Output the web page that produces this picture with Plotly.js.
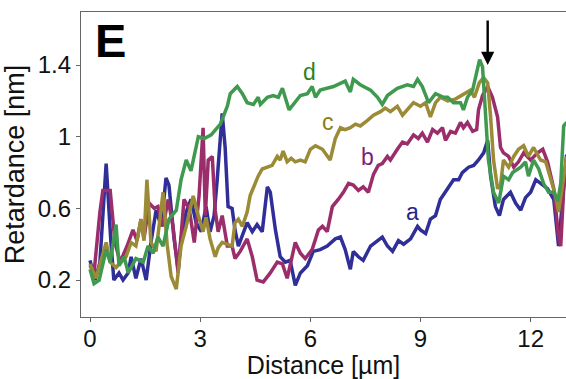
<!DOCTYPE html>
<html>
<head>
<meta charset="utf-8">
<script src="https://cdn.plot.ly/plotly-3.0.1.min.js"></script>
<style>html,body{margin:0;padding:0;background:#fff;}#chart{width:566px;height:379px;}</style>
</head>
<body>
<div id="chart"></div>
<script>
// Series a (blue)
const aX = [0,0.14,0.27,0.44,0.57,0.65,0.79,0.9,1.04,1.12,1.25,1.39,1.53,1.66,1.8,1.94,2.07,2.15,2.29,2.4,2.48,2.62,2.75,2.89,3.03,3.16,3.27,3.38,3.46,3.6,3.68,3.76,3.87,3.95,4.04,4.17,4.28,4.42,4.55,4.69,4.83,4.91,5.05,5.18,5.32,5.45,5.59,5.73,5.92,6.08,6.27,6.46,6.68,6.82,6.95,7.09,7.17,7.31,7.44,7.64,7.77,7.96,8.1,8.24,8.4,8.54,8.73,8.92,9.0,9.14,9.27,9.41,9.54,9.68,9.9,10.04,10.14,10.31,10.45,10.58,10.72,10.83,10.91,11.04,11.15,11.26,11.45,11.59,11.73,11.86,12.0,12.14,12.27,12.46,12.63,12.76,12.87,12.98];
const aY = [0.31,0.2,0.3,0.85,0.41,0.2,0.24,0.2,0.24,0.33,0.21,0.32,0.2,0.41,0.59,0.5,0.77,0.73,0.43,0.26,0.43,0.58,0.65,0.52,0.47,0.61,0.47,0.56,0.75,1.13,0.94,0.61,0.6,0.48,0.39,0.46,0.52,0.47,0.51,0.47,0.72,0.69,0.48,0.33,0.30,0.31,0.17,0.24,0.28,0.36,0.37,0.39,0.43,0.44,0.37,0.26,0.36,0.33,0.31,0.39,0.41,0.44,0.39,0.36,0.42,0.40,0.43,0.5,0.48,0.46,0.54,0.56,0.65,0.69,0.76,0.76,0.8,0.83,0.84,0.87,0.91,0.98,0.78,0.61,0.56,0.65,0.69,0.63,0.59,0.66,0.69,0.76,0.74,0.71,0.65,0.39,0.65,0.9];
// Series b (magenta)
const bX = [0,0.11,0.27,0.35,0.55,0.68,0.82,1.01,1.17,1.28,1.39,1.47,1.61,1.75,1.85,1.99,2.13,2.26,2.4,2.56,2.7,2.84,2.97,3.08,3.14,3.22,3.33,3.41,3.49,3.6,3.74,3.87,3.95,4.09,4.28,4.42,4.55,4.72,4.91,5.1,5.24,5.37,5.59,5.73,5.86,6.05,6.22,6.33,6.46,6.6,6.76,6.9,7.04,7.17,7.31,7.44,7.58,7.72,7.85,7.96,8.1,8.18,8.37,8.51,8.64,8.81,8.94,9.05,9.19,9.33,9.46,9.6,9.68,9.82,9.95,10.09,10.17,10.28,10.42,10.53,10.58,10.69,10.83,10.96,11.1,11.18,11.26,11.4,11.54,11.67,11.81,12.0,12.19,12.33,12.46,12.63,12.76,12.82,12.9,12.98];
const bY = [0.28,0.24,0.58,0.7,0.7,0.41,0.3,0.39,0.48,0.42,0.54,0.43,0.63,0.6,0.61,0.5,0.65,0.5,0.24,0.65,0.6,0.41,0.67,1.05,0.56,0.87,0.89,0.59,0.47,0.56,0.39,0.39,0.32,0.36,0.43,0.33,0.2,0.19,0.24,0.3,0.29,0.21,0.41,0.35,0.32,0.37,0.48,0.5,0.47,0.61,0.65,0.69,0.74,0.73,0.7,0.72,0.69,0.79,0.84,0.85,0.89,0.87,0.93,0.97,0.96,1.01,0.99,1.02,0.97,1.04,1.02,1.05,0.98,1.03,1.02,1.08,1.05,1.08,1.03,1.04,1.15,1.23,1.28,1.22,1.11,0.94,0.91,0.89,0.83,0.86,0.91,0.87,0.91,0.93,0.86,0.71,0.44,0.39,0.71,0.85];
// Series c (olive)
const cX = [0,0.16,0.44,0.55,0.71,0.85,0.98,1.12,1.25,1.39,1.47,1.55,1.66,1.8,1.99,2.1,2.21,2.35,2.48,2.62,2.81,2.95,3.08,3.16,3.27,3.41,3.49,3.6,3.74,3.87,3.95,4.04,4.15,4.28,4.36,4.45,4.58,4.69,4.83,4.96,5.1,5.18,5.26,5.37,5.48,5.59,5.73,5.86,6.0,6.14,6.33,6.54,6.68,6.82,6.95,7.09,7.23,7.36,7.55,7.72,7.91,8.04,8.18,8.37,8.51,8.67,8.81,9.0,9.14,9.27,9.41,9.54,9.74,9.95,10.22,10.36,10.47,10.6,10.72,10.83,10.91,10.99,11.1,11.18,11.26,11.4,11.54,11.67,11.81,11.94,12.08,12.27,12.41,12.54,12.68,12.76,12.87,12.98];
const cY = [0.29,0.21,0.41,0.3,0.27,0.3,0.33,0.41,0.39,0.54,0.42,0.76,0.41,0.36,0.69,0.4,0.22,0.15,0.39,0.5,0.67,0.56,0.47,0.55,0.43,0.33,0.38,0.41,0.4,0.39,0.52,0.54,0.5,0.58,0.67,0.72,0.78,0.82,0.83,0.84,0.89,0.87,0.92,0.86,0.88,0.86,0.87,0.86,0.93,0.95,0.93,0.87,0.99,1.05,1.04,1.05,1.07,1.06,1.09,1.12,1.14,1.16,1.14,1.17,1.12,1.16,1.19,1.17,1.19,1.11,1.19,1.22,1.2,1.21,1.24,1.26,1.22,1.3,1.33,1.3,1.11,0.87,0.71,0.73,0.87,0.83,0.89,0.93,0.95,0.89,0.94,0.87,0.86,0.76,0.67,0.58,0.75,0.89];
// Series d (green)
const dX = [0,0.11,0.25,0.44,0.55,0.71,0.79,0.93,1.04,1.25,1.45,1.58,1.72,1.85,1.99,2.15,2.35,2.48,2.62,2.75,2.95,3.11,3.3,3.55,3.74,3.82,4.01,4.15,4.28,4.45,4.58,4.64,4.83,4.99,5.13,5.24,5.42,5.59,5.73,5.92,6.05,6.14,6.27,6.63,6.95,7.09,7.17,7.36,7.64,7.83,7.96,8.1,8.37,8.64,8.81,8.92,9.05,9.22,9.41,9.63,9.74,9.9,10.09,10.17,10.28,10.42,10.5,10.61,10.69,10.77,10.85,10.99,11.13,11.26,11.4,11.51,11.73,11.86,11.94,12.08,12.22,12.35,12.49,12.63,12.74,12.82,12.9,12.98];
const dY = [0.26,0.18,0.2,0.37,0.30,0.51,0.28,0.33,0.24,0.32,0.30,0.39,0.35,0.44,0.39,0.54,0.59,0.76,0.87,0.81,1.0,0.99,1.01,1.07,1.17,1.24,1.28,1.24,1.19,1.18,1.22,1.18,1.22,1.23,1.22,1.27,1.15,1.19,1.23,1.24,1.28,1.22,1.26,1.28,1.31,1.25,1.32,1.29,1.26,1.22,1.18,1.23,1.27,1.29,1.28,1.32,1.28,1.19,1.24,1.22,1.22,1.19,1.19,1.15,1.22,1.26,1.33,1.43,1.39,1.15,0.87,0.69,0.63,0.78,0.76,0.80,0.83,0.86,0.78,0.87,0.82,0.74,0.69,0.69,0.64,0.74,1.06,1.08];

const seriesNames = ['a','b','c','d'];
const labelX = [8.77, 7.57, 6.48, 5.99];
const labelY = [0.58, 0.886, 1.08, 1.36];
const arrowX = 10.83, arrowY = 1.4;
const xTicks = [0,3,6,9,12];
const yTicks = [0.2,0.6,1,1.4];
const yTickText = ['0.2','0.6','1','1.4'];

const lineColors = ['#302f98','#9a2d6a','#9b8a36','#3f9a4f'];
const labelColors = ['#262690','#7d1f78','#8a7a22','#2f7f1f'];
const xs = [aX,bX,cX,dX], ys = [aY,bY,cY,dY];

const traces = seriesNames.map((n,i)=>({
  x: xs[i], y: ys[i], name: n, type:'scatter', mode:'lines',
  line:{color: lineColors[i], width:3.5}, hoverinfo:'skip'
}));

const annotations = seriesNames.map((n,i)=>({
  x: labelX[i], y: labelY[i], xref:'x', yref:'y', text: n, showarrow:false,
  font:{family:'Liberation Sans, Arial, sans-serif', size:23, color: labelColors[i]}
}));
annotations.push({
  x: arrowX, y: arrowY, xref:'x', yref:'y', text:'', showarrow:true,
  ax:0, ay:-46, arrowhead:2, arrowsize:1.1, arrowwidth:2.4, arrowcolor:'#000'
});
annotations.push({
  x: 0.08, y: 1.535, xref:'x', yref:'y', text:'<b>E</b>', showarrow:false, xanchor:'left',
  font:{family:'Liberation Sans, Arial, sans-serif', size:47, color:'#000'}
});

const layout = {
  width:566, height:379,
  margin:{l:81, r:0, t:12, b:62},
  paper_bgcolor:'#fff', plot_bgcolor:'#fff',
  showlegend:false,
  font:{family:'Liberation Sans, Arial, sans-serif', color:'#111'},
  xaxis:{
    range:[-0.245,12.963], tickvals:xTicks, ticktext:xTicks.map(String),
    showgrid:false, zeroline:false, showline:true, linecolor:'#666', linewidth:1.2,
    mirror:true, ticks:'outside', ticklen:4, tickcolor:'#666',
    tickfont:{size:24, color:'#111'}, ticklabelstandoff:-4,
    title:{text:'Distance [µm]', font:{size:25, color:'#111'}, standoff:27}
  },
  yaxis:{
    range:[-0.006,1.696], tickvals:yTicks, ticktext:yTickText,
    showgrid:false, zeroline:false, showline:true, linecolor:'#666', linewidth:1.2,
    ticks:'outside', ticklen:4, tickcolor:'#666',
    tickfont:{size:24, color:'#111'},
    title:{text:'Retardance [nm]', font:{size:27, color:'#111'}, standoff:6}
  },
  annotations: annotations
};
Plotly.newPlot('chart', traces, layout, {staticPlot:true, displayModeBar:false});
</script>
</body>
</html>
